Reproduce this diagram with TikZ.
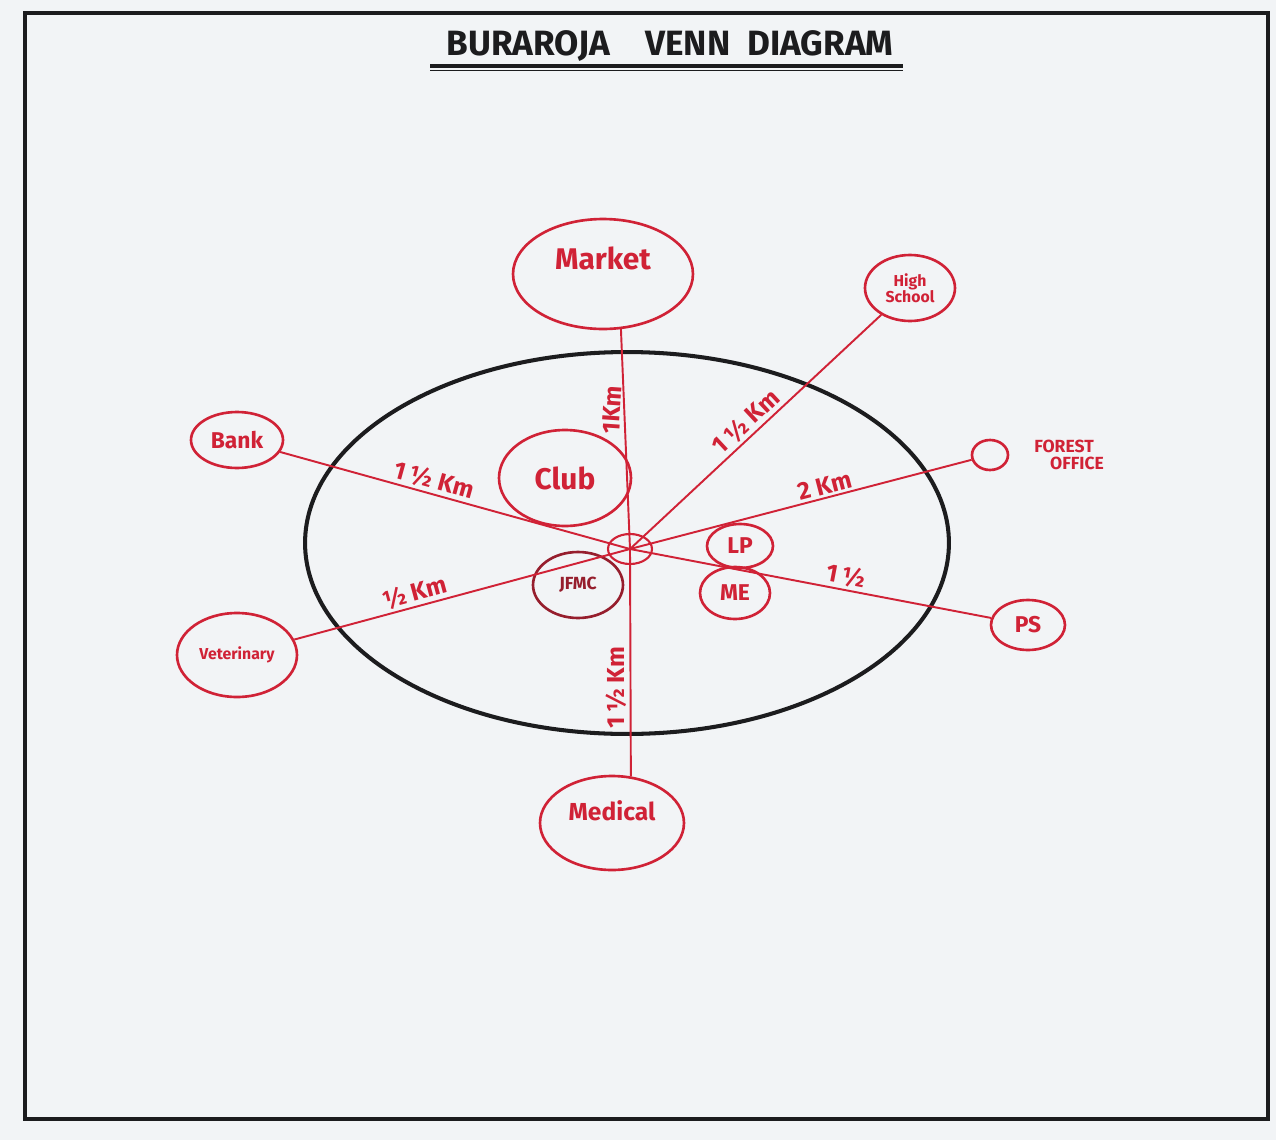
\documentclass[tikz,border=0pt]{standalone}
\usepackage{fontspec}
\setmainfont{Fira Sans}
\usetikzlibrary{shapes.geometric}
\definecolor{hand}{RGB}{208,34,54}
\definecolor{darkhand}{RGB}{150,30,45}
\definecolor{pen}{RGB}{28,28,30}
\definecolor{paper}{RGB}{242,244,246}
\newcommand{\handsize}[1]{\fontsize{#1}{#1}\selectfont}
\tikzset{
  place/.style={draw=hand,text=hand,ellipse,line width=1.5pt,inner sep=0pt,align=center},
  road/.style={draw=hand,line width=1.1pt},
  dist/.style={text=hand,inner sep=1.5pt,font=\bfseries\handsize{14}}
}

\begin{document}
\begin{tikzpicture}[x=.02cm,y=-.02cm,line width=.35pt,font=\bfseries]
\useasboundingbox[fill=paper] (0,0) rectangle (1276,1140);
\draw[pen,line width=2.4pt] (25,13) rectangle (1268,1119);
\node[pen,inner sep=1pt,font=\bfseries\handsize{20}] (title) at (670,46) {BURAROJA\quad VENN\ \ DIAGRAM};
\draw[pen,line width=2.2pt] ([xshift=-8pt,yshift=-1.5pt]title.south west)--([xshift=4pt,yshift=-1.5pt]title.south east);
\draw[pen,line width=.8pt] ([xshift=-8pt,yshift=-4pt]title.south west)--([xshift=4pt,yshift=-4pt]title.south east);
% village boundary
\node[draw=pen,ellipse,line width=2.3pt,minimum width=12.88cm,minimum height=7.64cm] (village) at (627,543) {};
% places
\node[place,line width=1.2pt,minimum width=.88cm,minimum height=.6cm] (ctr) at (630,549) {};
\node[place,minimum width=3.6cm,minimum height=2.2cm,font=\bfseries\handsize{17}] (market) at (603,274) {\raisebox{18pt}{Market}};
\node[place,minimum width=1.8cm,minimum height=1.32cm,font=\bfseries\handsize{9}] (highsch) at (910,288) {High\\School};
\node[place,minimum width=1.84cm,minimum height=1.12cm,font=\bfseries\handsize{13}] (bank) at (237,440) {Bank};
\node[place,minimum width=2.64cm,minimum height=1.92cm,font=\bfseries\handsize{17}] (club) at (565,478) {Club};
\node[place,minimum width=.72cm,minimum height=.6cm] (forest) at (990,455) {};
\node[text=hand,anchor=west,align=left,inner sep=0pt,font=\bfseries\handsize{10}] (forestlbl) at (1034,455) {FOREST\\\hspace*{.9em}OFFICE};
\node[place,minimum width=1.32cm,minimum height=.88cm,font=\bfseries\handsize{13}] (lp) at (740,546) {LP};
\node[place,minimum width=1.4cm,minimum height=1.04cm,font=\bfseries\handsize{13}] (me) at (735,593) {ME};
\node[place,minimum width=1.48cm,minimum height=1cm,font=\bfseries\handsize{13}] (ps) at (1028,625) {PS};
\node[place,draw=darkhand,text=darkhand,minimum width=1.8cm,minimum height=1.32cm,font=\bfseries\handsize{10}] (jfmc) at (578,585) {JFMC};
\node[place,minimum width=2.4cm,minimum height=1.68cm,font=\bfseries\handsize{9}] (vet) at (237,655) {Veterinary};
\node[place,minimum width=2.88cm,minimum height=1.88cm,font=\bfseries\handsize{14}] (medical) at (612,823) {\raisebox{14pt}{Medical}};
% roads
\draw[road] (ctr.center)--(market.-72) node[dist,pos=.63,rotate=86,anchor=south] {1Km};
\draw[road] (ctr.center)--(medical.68) node[dist,pos=.61,rotate=90,anchor=south] {1\,½ Km};
\draw[road] (bank)--(ctr.center) node[dist,pos=.43,sloped,above] {1\,½ Km};
\draw[road] (highsch)--(ctr.center) node[dist,pos=.5,sloped,above] {1\,½ Km};
\draw[road] (ctr.center)--(forest) node[dist,pos=.58,sloped,above] {2 Km};
\draw[road] (ctr.center)--(ps) node[dist,pos=.59,sloped,above] {1\,½};
\draw[road] (vet)--(ctr.center) node[dist,pos=.37,sloped,above] {½ Km};
\end{tikzpicture}
\end{document}
